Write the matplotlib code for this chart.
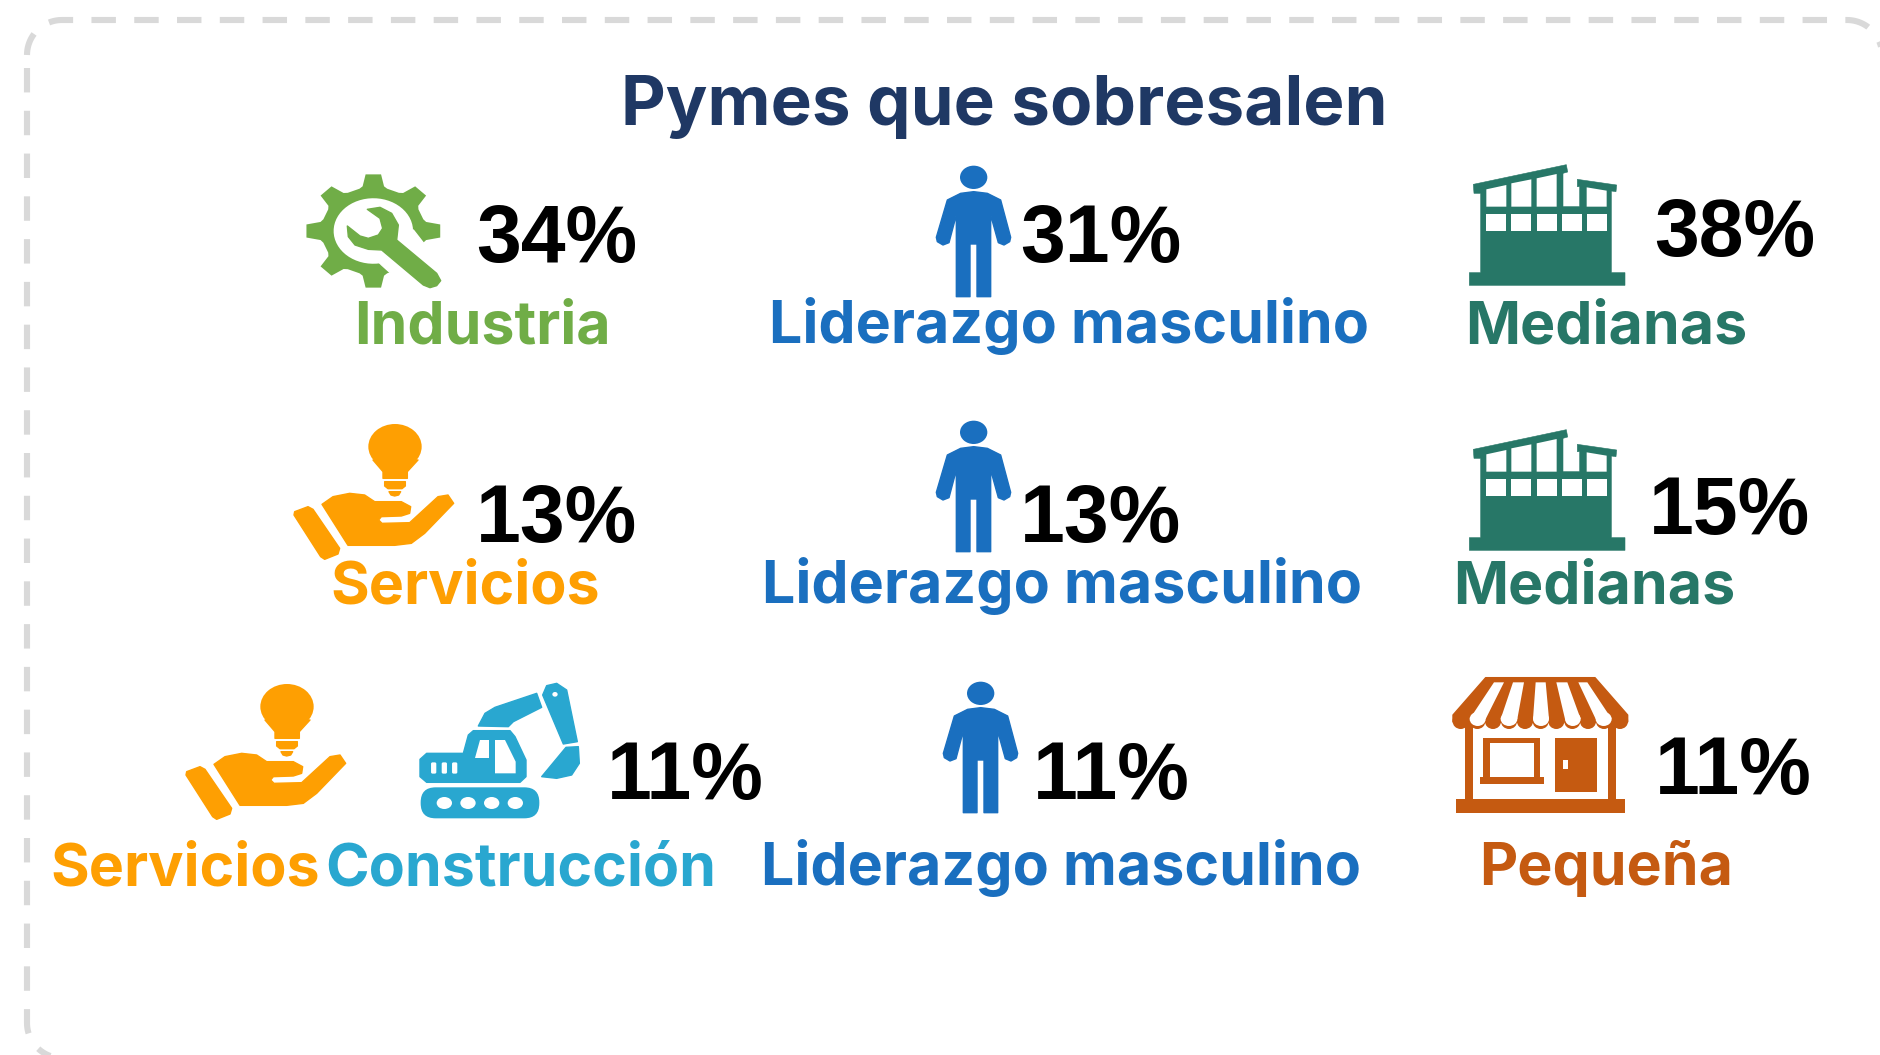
import numpy as np
import matplotlib
matplotlib.use("Agg")
import matplotlib.pyplot as plt
from matplotlib.patches import Polygon, Ellipse, Rectangle, FancyBboxPatch
from matplotlib.path import Path
from matplotlib.patches import PathPatch

# datos
title = "Pymes que sobresalen"
pct_values = [34, 31, 38, 13, 13, 15, 11, 11, 11]
categories = ["Industria", "Liderazgo masculino", "Medianas",
              "Servicios", "Liderazgo masculino", "Medianas",
              "Servicios", "Construcción", "Liderazgo masculino", "Pequeña"]

# colores
GREEN = "#70AD47"
BLUE = "#1A6FBF"
TEAL = "#277767"
ORANGE = "#FE9F02"
CYAN = "#29A7D0"
BROWN = "#C55A11"
NAVY = "#1F3864"
cat_colors = [GREEN, BLUE, TEAL, ORANGE, BLUE, TEAL, ORANGE, CYAN, BLUE, BROWN]

# posiciones en pixeles (izq, linea base)
pct_pos = [(476, 262), (1020, 262), (1654, 256), (476, 542), (1020, 542),
           (1649, 534), (607, 799), (1033, 799), (1655, 794)]
cat_pos = [(354, 343), (769, 343), (1465, 343), (330, 603), (762, 603),
           (1453, 603), (50, 885), (325, 885), (761, 885), (1479, 885)]

plt.rcParams['font.family'] = ['Inter', 'DejaVu Sans']

fig = plt.figure(figsize=(18.81, 10.55), dpi=100)
ax = fig.add_axes([0, 0, 1, 1])
ax.set_xlim(0, 1881)
ax.set_ylim(1055, 0)
ax.axis('off')


def arc(cx, cy, r, a0, a1, n=30):
    t = np.radians(np.linspace(a0, a1, n))
    return np.column_stack([cx + r*np.cos(t), cy + r*np.sin(t)])


def dashed(pts):
    ax.add_patch(PathPatch(Path(pts), fill=False, ec="#D9D9D9", lw=4.4,
                           ls=(0, (4, 3)), capstyle='butt', joinstyle='round'))


# marco punteado
R = 35
a_start = np.degrees(np.arccos((49-62)/R))
dashed(np.vstack([arc(62, 55, R, 360-a_start, 270, 10), arc(1847, 55, R, 270, 360), arc(1847, 1023, R, 0, 5, 2)]))
dashed(np.vstack([[(27, 68)], arc(62, 1023, R, 180, 90), [(1881, 1058)]]))
ax.add_patch(PathPatch(Path(arc(62, 55, R, 217, 180, 10)), fill=False, ec="#D9D9D9", lw=4.4, capstyle='butt'))


def scaled(org, pts):
    return [(org[0] + x/3, org[1] + y/3) for x, y in pts]


def poly(org, pts, color, lw=1.0):
    ax.add_patch(Polygon(scaled(org, pts), closed=True, fc=color, ec=color, lw=lw, joinstyle='round'))


def ell(org, cx, cy, rx, ry, color):
    ax.add_patch(Ellipse((org[0]+cx/3, org[1]+cy/3), 2*rx/3, 2*ry/3, fc=color, ec='none'))


def rect(org, x0, y0, x1, y1, color):
    ax.add_patch(Rectangle((org[0]+x0/3, org[1]+y0/3), (x1-x0)/3, (y1-y0)/3, fc=color, ec='none'))


def gear_icon(org, color):
    # centro y radios en coordenadas de recorte
    cx, cy, rx, ry = 280, 243, 202, 171
    outer = []
    for k in range(8):
        a = k*np.pi/4
        for r, da in [(0.77, -0.27), (0.80, -0.2), (1.0, -0.115), (1.0, 0.115), (0.80, 0.2), (0.77, 0.27)]:
            outer.append((cx + rx*r*np.cos(a+da), cy + ry*r*np.sin(a+da)))
    t = np.linspace(0, 2*np.pi, 60)
    inner = [(cx + rx*0.59*np.cos(v), cy + ry*0.575*np.sin(v)) for v in t[::-1]]
    verts = scaled(org, outer + [outer[0]] + inner)
    codes = [Path.MOVETO] + [Path.LINETO]*len(outer) + [Path.MOVETO] + [Path.LINETO]*(len(inner)-1)
    ax.add_patch(PathPatch(Path(verts, codes), fc=color, ec='none'))
    poly(org, [(400, 240), (435, 285), (520, 300), (520, 450), (345, 450), (335, 372), (305, 345), (280, 320)], "white")
    wrench = [(262, 178), (300, 172), (335, 190), (355, 225), (350, 270), (470, 370), (482, 392), (470, 407),
              (450, 413), (430, 405), (305, 300), (265, 298), (225, 285), (205, 260), (202, 228), (240, 258),
              (265, 265), (295, 255), (308, 235), (300, 205)]
    poly(org, wrench, color)


def person_icon(org, color):
    ell(org, 224, 82, 41, 35, color)
    body = [(145, 150), (185, 130), (224, 125), (265, 130), (305, 150), (335, 262), (332, 275), (315, 285),
            (298, 278), (275, 195), (275, 440), (234, 440), (234, 282), (213, 282), (213, 440), (172, 440),
            (172, 195), (150, 278), (132, 285), (115, 275), (112, 262)]
    poly(org, body, color)


def building_icon(org, color):
    outline = [(125, 130), (105, 130), (103, 103), (382, 44), (386, 66), (372, 70), (372, 170), (422, 170),
               (422, 110), (415, 110), (415, 88), (533, 105), (531, 125), (517, 123), (517, 368), (558, 368),
               (558, 406), (91, 406), (91, 368), (125, 368)]
    poly(org, outline, color, lw=0.4)
    for x in [142, 217, 293, 369, 445]:
        rect(org, x, 192, x+60, 243, "white")
    for x, y0, y1 in [(142, 118, 105), (217, 100, 88), (293, 85, 72)]:
        poly(org, [(x, y0), (x+60, y1), (x+60, 170), (x, 170)], "white", lw=0)
    poly(org, [(443, 112), (503, 122), (503, 170), (443, 170)], "white", lw=0)


def store_icon(org, color):
    rect(org, 52, 403, 557, 443, color)
    rect(org, 78, 170, 103, 403, color)
    rect(org, 506, 170, 531, 403, color)
    poly(org, [(140, 38), (468, 38), (566, 150), (566, 170), (42, 170), (42, 150)], color)
    for x in [65, 115, 162, 210, 258, 305, 352, 400, 447, 495, 543]:
        ell(org, x, 168, 24.5, 24, color)
    for top0, top1, bot0, bot1 in [(165, 195, 92, 140), (222, 255, 185, 235), (290, 320, 282, 330),
                                   (352, 385, 378, 425), (418, 445, 470, 518)]:
        poly(org, [(top0, 52), (top1, 52), (bot1, 162), (bot0, 162)], "white", lw=0)
        ell(org, (bot0+bot1)/2, 162, (bot1-bot0)/2, 21, "white")
    rect(org, 133, 218, 303, 335, color)
    rect(org, 153, 235, 285, 335, "white")
    rect(org, 122, 335, 316, 356, color)
    rect(org, 348, 218, 474, 380, color)
    rect(org, 372, 285, 386, 312, "white")


def hand_icon(org, color):
    sleeve = [(50, 305), (90, 290), (105, 298), (185, 415), (180, 432), (140, 448), (128, 440), (48, 315)]
    poly(org, sleeve, color)
    hand = [(132, 283), (165, 260), (215, 250), (260, 255), (290, 275), (370, 275), (398, 290), (395, 310),
            (370, 318), (310, 320), (302, 330), (312, 340), (395, 338), (480, 260), (510, 255), (527, 280),
            (440, 370), (400, 400), (350, 406), (210, 406)]
    poly(org, hand, color)
    ell(org, 351, 110, 80, 68, color)
    poly(org, [(285, 150), (315, 185), (315, 205), (388, 205), (388, 185), (420, 150)], color)
    poly(org, [(320, 215), (382, 215), (382, 228), (372, 236), (330, 236), (320, 228)], color)
    poly(org, [(333, 245), (368, 245), (362, 255), (350, 258), (339, 255)], color)


def digger_icon(org, color):
    body = [(750, 268), (770, 250), (880, 250), (895, 195), (910, 182), (1020, 182), (1035, 200), (1068, 270),
            (1068, 320), (1050, 337), (770, 337), (750, 320)]
    poly(org, body, color)
    poly(org, [(930, 210), (958, 210), (958, 263), (915, 263)], "white", lw=0)
    poly(org, [(975, 210), (1005, 210), (1037, 275), (1037, 310), (975, 310)], "white", lw=0)
    for x in [791, 823, 854]:
        ax.add_patch(FancyBboxPatch((org[0]+(x-4)/3, org[1]+281/3), 8/3, 26/3, boxstyle="round,pad=1.3,rounding_size=1.5",
                                    fc="white", ec='none'))
    ax.add_patch(FancyBboxPatch((org[0]+752/3, org[1]+352/3), 356/3, 93/3, boxstyle="round,pad=0,rounding_size=15",
                                fc=color, ec='none'))
    for x in [823, 894, 965, 1036]:
        ell(org, x, 399, 23, 18, "white")
    poly(org, [(925, 168), (945, 130), (975, 112), (1100, 70), (1115, 112), (1030, 155), (1015, 170)], color)
    poly(org, [(1118, 75), (1130, 47), (1160, 40), (1190, 60), (1222, 215), (1180, 222)], color)
    ell(org, 1155, 73, 8, 7, "white")
    poly(org, [(1188, 232), (1225, 230), (1228, 280), (1205, 315), (1160, 325), (1115, 320)], color)


# iconos
gear_icon((280, 150), GREEN)
for org in [(899, 150), (899, 405), (906, 666)]:
    person_icon(org, BLUE)
for org in [(1439, 150), (1439, 415)]:
    building_icon(org, TEAL)
store_icon((1439, 665), BROWN)
for org in [(278, 410), (170, 670)]:
    hand_icon(org, ORANGE)
digger_icon((170, 670), CYAN)

# textos
ax.text(1004, 125, title, color=NAVY, fontsize=49.8, fontweight='bold', ha='center', va='baseline')
for v, (x, y) in zip(pct_values, pct_pos):
    ax.text(x, y, f"{v}%", color='black', fontsize=58, fontweight='bold', family=['Liberation Sans', 'DejaVu Sans'],
            ha='left', va='baseline')
for name, col, (x, y) in zip(categories, cat_colors, cat_pos):
    ax.text(x, y, name, color=col, fontsize=42.5, fontweight='bold', ha='left', va='baseline')

fig.savefig("out.png", dpi=100)
